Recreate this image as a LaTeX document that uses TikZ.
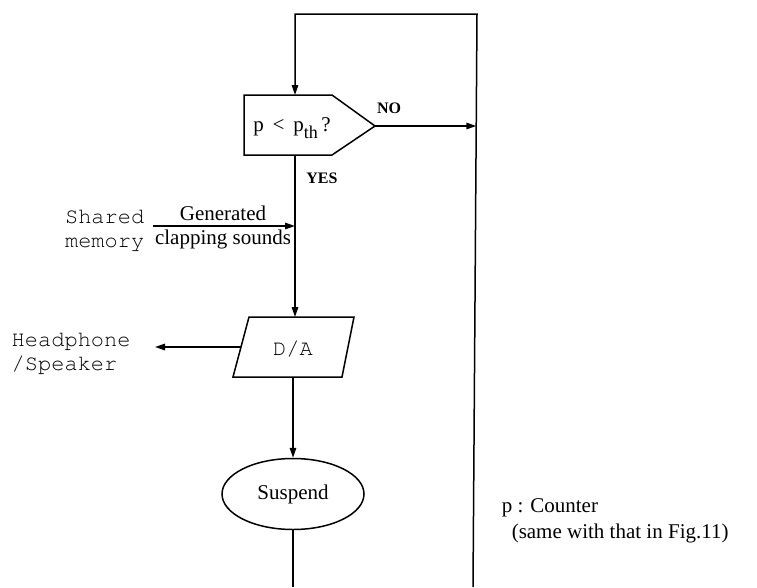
\documentclass[tikz,border=0pt]{standalone}
\usepackage{fontspec}
\setmainfont{Liberation Serif}
\setmonofont{texgyrecursor-regular.otf}
\usetikzlibrary{arrows.meta,shapes.geometric}

\begin{document}
\begin{tikzpicture}[x=1pt,y=-1pt, line width=1.5pt,
  arr/.style={-{Triangle[length=10pt,width=6.5pt]}},
  serif/.style={font=\fontsize{21}{24}\selectfont, inner sep=0pt},
  mono/.style={font=\fontsize{22}{24}\selectfont\ttfamily, inner sep=0pt},
  boldlbl/.style={font=\fontsize{16}{18}\selectfont\bfseries, inner sep=0pt}]
\useasboundingbox (0,0) rectangle (757,587);

% decision box  p < p_th ?
\coordinate (dTL) at (244,95);
\coordinate (dTR) at (332,95);
\coordinate (dTip) at (375,126);
\coordinate (dBR) at (332,155);
\coordinate (dBL) at (244,155);
\coordinate (dIn) at (295,95);
\coordinate (dOut) at (295,155);
\draw (dTL) -- (dTR) -- (dTip) -- (dBR) -- (dBL) -- cycle;
\node[serif] (test) at (292,128) {p\, < \,p\raisebox{-0.35em}{\fontsize{18}{18}\selectfont th}\,?};
\node[boldlbl] (no) at (389,108) {NO};
\node[boldlbl] (yes) at (322,178) {YES};

% loop back
\coordinate (loopBot) at (473,587);
\coordinate (loopTR) at (477,14);
\coordinate (loopTL) at (295,14);
\coordinate (jNo) at (476.3,126);
\draw[arr] (loopBot) -- (loopTR) -- (loopTL) -- (dIn);
\draw[arr] (dTip) -- (jNo);

% shared memory input
\coordinate (smEnd) at (153,226);
\coordinate (smJoin) at (295,226);
\node[mono, align=right, anchor=east] (shm) at (145,231) {Shared\\memory};
\draw[arr] (smEnd) -- (smJoin);
\node[serif] (gen) at (223,213) {Generated};
\node[serif] (clap) at (223,239) {clapping sounds};

% D/A converter
\coordinate (aTL) at (249,317);
\coordinate (aTR) at (354,317);
\coordinate (aBR) at (342,377);
\coordinate (aBL) at (233,377);
\coordinate (aIn) at (295,317);
\coordinate (aOut) at (293,377);
\coordinate (aLeft) at (241,347);
\coordinate (hpEnd) at (155,347);
\draw (aTL) -- (aTR) -- (aBR) -- (aBL) -- cycle;
\node[mono] (da) at (293,349) {D/A};
\draw[arr] (dOut) -- (aIn);
\draw[arr] (aLeft) -- (hpEnd);
\node[mono, align=left, anchor=west] (hp) at (11,354) {Headphone\\/Speaker};

% suspend
\node[draw, ellipse, minimum width=142pt, minimum height=71pt, inner sep=0pt,
      serif] (susp) at (293,494) {Suspend};
\coordinate (sBot) at (293,587);
\draw[arr] (aOut) -- (susp.north);
\draw (susp.south) -- (sBot);

% legend
\node[serif, anchor=west] (leg1) at (501,508) {p : Counter};
\node[serif, anchor=west] (leg2) at (511,533) {(same with that in Fig.11)};
\end{tikzpicture}
\end{document}
